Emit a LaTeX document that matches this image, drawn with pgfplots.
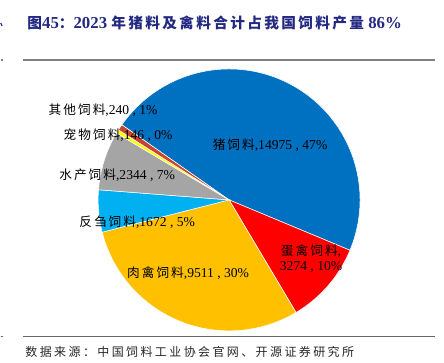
\documentclass[border=0pt]{standalone}
\usepackage{pgfplots}
\pgfplotsset{compat=1.18}
\usepackage{fontspec}
\setmainfont{Liberation Serif}
\newfontfamily\cjk[LetterSpace=16]{Noto Sans CJK SC}
\newfontfamily\cjkt[LetterSpace=16]{Noto Sans CJK SC}
\newfontfamily\cjks[LetterSpace=20]{Noto Sans CJK SC}
\definecolor{cpig}{HTML}{0070C0}
\definecolor{cegg}{HTML}{FF0000}
\definecolor{cmeat}{HTML}{FFC000}
\definecolor{crum}{HTML}{00B0F0}
\definecolor{caqua}{HTML}{A5A5A5}
\definecolor{cpet}{HTML}{FFFF00}
\definecolor{coth}{HTML}{C8442E}
\definecolor{titleblue}{RGB}{35,40,130}
\newcommand\lab[2]{\fontsize{10.2}{11.5}\selectfont{\cjk\fontsize{9.5}{11.5}\selectfont #1}#2}
% data (10k tonnes)
\def\vA{14975}% pig
\def\vB{3274}% egg poultry
\def\vC{9511}% meat poultry
\def\vD{1672}% ruminant
\def\vE{2344}% aquatic
\def\vF{146}% pet
\def\vG{240}% other
\edef\tot{\fpeval{\vA+\vB+\vC+\vD+\vE+\vF+\vG}}
\edef\aA{145}
\edef\aB{\fpeval{round(\aA-360*\vA/\tot,3)}}
\edef\aC{\fpeval{round(\aB-360*\vB/\tot,3)}}
\edef\aD{\fpeval{round(\aC-360*\vC/\tot,3)}}
\edef\aE{\fpeval{round(\aD-360*\vD/\tot,3)}}
\edef\aF{\fpeval{round(\aE-360*\vE/\tot,3)}}
\edef\aG{\fpeval{round(\aF-360*\vF/\tot,3)}}
\edef\aH{\fpeval{round(\aG-360*\vG/\tot,3)}}
\begin{document}
\begin{tikzpicture}
\begin{axis}[scale only axis, width=333pt, height=272.25pt,
  xmin=0, xmax=444, ymin=0, ymax=363, hide axis, ticks=none, clip=false]
\path (axis cs:0,0) rectangle (axis cs:444,363);
\pgfplotsset{every axis plot/.append style={draw=white, line width=0.4pt, samples=90, variable=\t}}
\addplot[fill=cpig, domain=\aB:\aA] ({229+131*cos(\t)},{163+131*sin(\t)}) -- (axis cs:229,163) -- cycle;
\addplot[fill=cegg, domain=\aC:\aB] ({229+131*cos(\t)},{163+131*sin(\t)}) -- (axis cs:229,163) -- cycle;
\addplot[fill=cmeat, domain=\aD:\aC] ({229+131*cos(\t)},{163+131*sin(\t)}) -- (axis cs:229,163) -- cycle;
\addplot[fill=crum, domain=\aE:\aD] ({229+131*cos(\t)},{163+131*sin(\t)}) -- (axis cs:229,163) -- cycle;
\addplot[fill=caqua, domain=\aF:\aE] ({229+131*cos(\t)},{163+131*sin(\t)}) -- (axis cs:229,163) -- cycle;
\addplot[fill=cpet, samples=10, domain=\aG:\aF] ({229+131*cos(\t)},{163+131*sin(\t)}) -- (axis cs:229,163) -- cycle;
\addplot[fill=coth, samples=10, domain=\aH:\aG] ({229+131*cos(\t)},{163+131*sin(\t)}) -- (axis cs:229,163) -- cycle;
% labels
\node[inner sep=0] at (axis cs:270,218) {\lab{猪饲料}{,14975 , 47\%}};
\node[inner sep=0, align=center] at (axis cs:311,104.5) {\lab{蛋禽饲料}{,}\\[-1pt]\lab{}{3274 , 10\%}};
\node[inner sep=0] at (axis cs:188,90) {\lab{肉禽饲料}{,9511 , 30\%}};
\node[inner sep=0] at (axis cs:137,141) {\lab{反刍饲料}{,1672 , 5\%}};
\node[inner sep=0] at (axis cs:117,188) {\lab{水产饲料}{,2344 , 7\%}};
\node[inner sep=0] at (axis cs:118,228) {\lab{宠物饲料}{,146 , 0\%}};
\node[inner sep=0] at (axis cs:103,253) {\lab{其他饲料}{,240 , 1\%}};
% frame texts
\node[inner sep=0, anchor=west, text=titleblue, font=\bfseries] at (axis cs:27,340)
  {\fontsize{12.6}{14}\selectfont{\cjkt\fontsize{11}{14}\selectfont 图}45{\cjkt\fontsize{11}{14}\selectfont ：}2023 {\cjkt\fontsize{11}{14}\selectfont 年猪料及禽料合计占我国饲料产量} 86\%};
\draw[color=black!50, line width=0.9pt] (axis cs:23,303) -- (axis cs:435,303);
\draw[color=black!60, line width=0.9pt] (axis cs:23,26) -- (axis cs:435,26);
\draw[color=black!50, line width=0.9pt] (axis cs:0.4,303) -- (axis cs:3,303);
\draw[color=black!60, line width=0.9pt] (axis cs:0.4,26) -- (axis cs:3,26);
\draw[color=titleblue, line width=0.8pt] (axis cs:0.5,340) -- (axis cs:2,337);
\node[inner sep=0, anchor=west, text=black!85] at (axis cs:25,11)
  {\cjks\fontsize{9}{11}\selectfont 数据来源：中国饲料工业协会官网、开源证券研究所};
\end{axis}
\end{tikzpicture}
\end{document}
